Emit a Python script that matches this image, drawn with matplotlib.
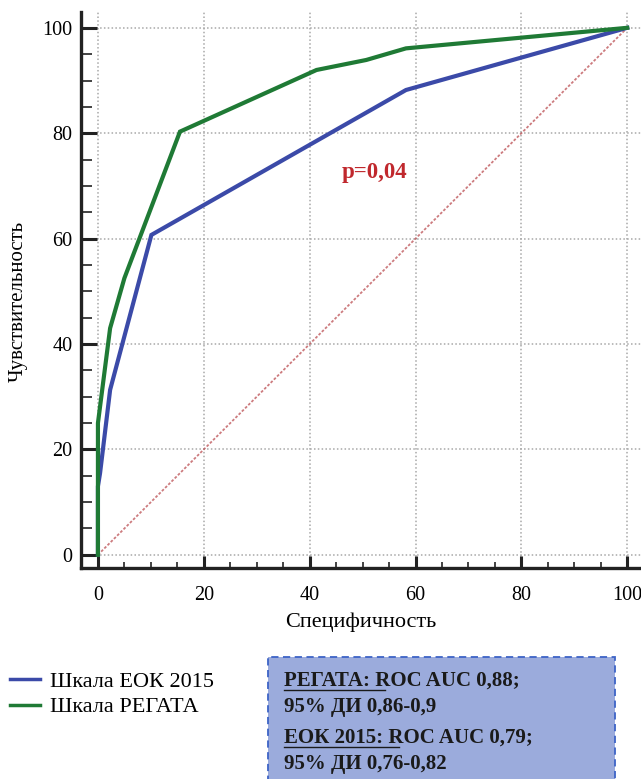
import numpy as np
import matplotlib
matplotlib.use("Agg")
import matplotlib.pyplot as plt
from matplotlib.ticker import MultipleLocator
from matplotlib.patches import Rectangle
from matplotlib.lines import Line2D

plt.rcParams["font.family"] = ["Liberation Serif", "DejaVu Serif"]

# ROC points (specificity axis as drawn, sensitivity), %
eok_x = [0, 0, 0.4, 2.3, 10.1, 58.2, 100]
eok_y = [0, 13, 15.5, 31.3, 60.7, 88.2, 100]
regata_x = [0, 0, 2.3, 5.0, 15.5, 41.3, 50.7, 58.2, 100]
regata_y = [0, 25, 43, 52.5, 80.3, 92, 93.9, 96.1, 100]
ref_x = [0, 100]
ref_y = [0, 100]

legend_labels = ["Шкала ЕОК 2015", "Шкала РЕГАТА"]
p_text = "p=0,04"
box_lines = [("РЕГАТА:", "РЕГАТА: ROC AUC 0,88;"),
             (None, "95% ДИ 0,86-0,9"),
             ("ЕОК 2015:", "ЕОК 2015: ROC AUC 0,79;"),
             (None, "95% ДИ 0,76-0,82")]

BLUE = "#3b4aa8"
GREEN = "#1f7a35"
W, H = 641, 779

fig = plt.figure(figsize=(W / 100, H / 100), dpi=100)
ax = fig.add_axes([81 / W, 1 - 568 / H, 1 - 81 / W, (568 - 12) / H])

ax.plot(ref_x, ref_y, color="#c05a5e", lw=1.3, ls=(0, (1.5, 1.0)), alpha=0.8, zorder=2)
l1, = ax.plot(eok_x, eok_y, color=BLUE, lw=3.0, label=legend_labels[0], zorder=3,
              solid_joinstyle="miter")
l2, = ax.plot(regata_x, regata_y, color=GREEN, lw=3.0, label=legend_labels[1], zorder=4,
              solid_joinstyle="miter")

ax.set_xlim(-3.2, 102.6)
ax.set_ylim(-2.5, 103.0)
ax.xaxis.set_minor_locator(MultipleLocator(5))
ax.yaxis.set_minor_locator(MultipleLocator(5))
ax.set_xticks([0, 20, 40, 60, 80, 100])
ax.set_yticks([0, 20, 40, 60, 80, 100])

for s in ["top", "right"]:
    ax.spines[s].set_visible(False)
for s in ["left", "bottom"]:
    ax.spines[s].set_linewidth(2.4)
    ax.spines[s].set_color("#222222")

ax.tick_params(axis="y", which="major", direction="in", length=11.5, width=2.2,
               color="#222222", labelsize=14.5, pad=6)
ax.tick_params(axis="y", which="minor", direction="in", length=8, width=1.2, color="#222222")
ax.tick_params(axis="x", which="major", direction="in", length=9, width=2.2,
               color="#222222", labelsize=14.5, pad=13)
ax.tick_params(axis="x", which="minor", direction="in", length=4.5, width=1.2, color="#222222")

ax.grid(True, which="major", color="#a8a8a8", ls=(0, (1, 1.5)), lw=1.1)

ax.set_xlabel("Специфичность", fontsize=16, labelpad=5)
ax.set_ylabel("Чувствительность", fontsize=15)
ax.yaxis.set_label_coords(-0.095, 0.48)

ax.text(52.3, 72.5, p_text, color="#c0282d", fontsize=16.5, fontweight="bold",
        ha="center", va="center")

# legend in the lower-left corner
fig.legend(handles=[l1, l2], loc="upper left", bbox_to_anchor=(-0.005, 1 - 658 / H),
           frameon=False, fontsize=16, handlelength=1.35, handletextpad=0.45,
           labelspacing=0.22, borderaxespad=0.2)
for h in fig.legends[0].legend_handles:
    h.set_linewidth(2.5)

# AUC box
box = Rectangle((268 / W, -0.02), (615 - 268) / W, 0.02 + 1 - 657 / H,
                transform=fig.transFigure, facecolor="#9babdc", edgecolor="#3d63c6",
                lw=1.3, ls=(0, (4, 2.5)), zorder=0)
fig.patches.append(box)

ys = [681, 707, 738, 764]
texts = []
for (head, line), yp in zip(box_lines, ys):
    t = fig.text(284 / W, 1 - yp / H, line, fontsize=15, fontweight="bold",
                 color="#1a1a1a", ha="left", va="center")
    texts.append((head, t))

fig.canvas.draw()
rend = fig.canvas.get_renderer()
for head, t in texts:
    if head is None:
        continue
    probe = fig.text(*t.get_position(), head + " R", fontsize=15, fontweight="bold",
                     ha="left", va="center", alpha=0)
    bb = probe.get_window_extent(rend)
    tb = t.get_window_extent(rend)
    yline = tb.y0 + 1
    x0, x1 = bb.x0, bb.x1 - 5
    fig.lines.append(Line2D([x0 / W, x1 / W], [yline / H, yline / H],
                            transform=fig.transFigure, color="#1a1a1a", lw=1.0))

fig.savefig("out.png", dpi=100)
